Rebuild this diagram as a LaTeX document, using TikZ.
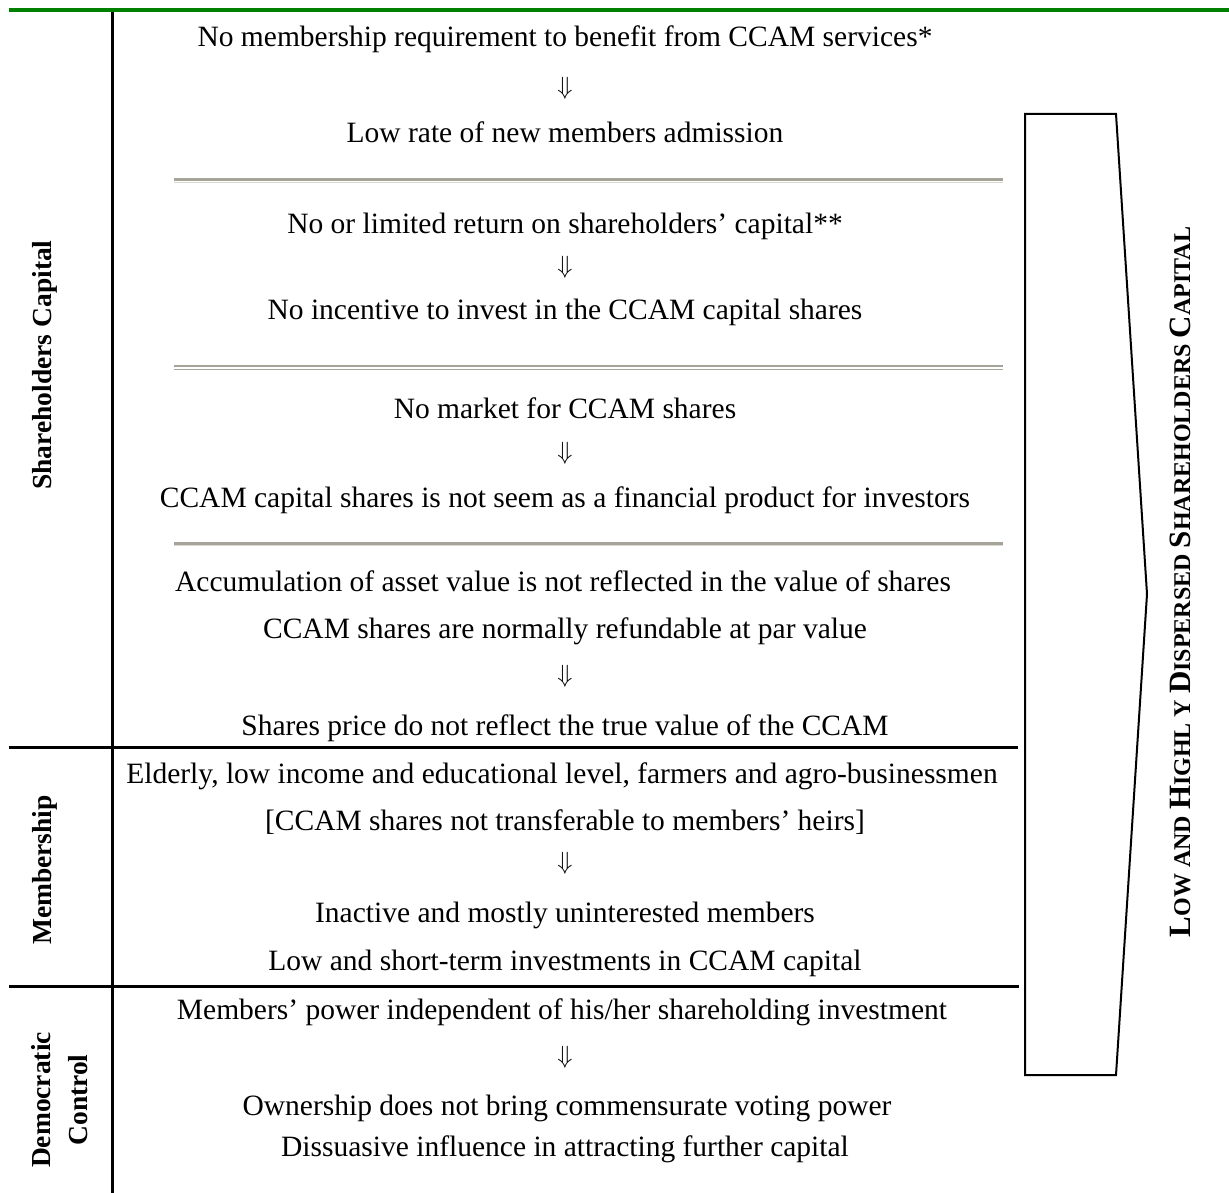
\documentclass[tikz,border=0pt]{standalone}
\usepackage{fontspec}
\setmainfont{Liberation Serif}
\usetikzlibrary{positioning}
\definecolor{custom-green}{RGB}{0, 128, 0}
\definecolor{custom-gray}{RGB}{166, 163, 152}
\definecolor{custom-light}{RGB}{218, 216, 208}
\newcommand{\capword}[2]{{\fontsize{31}{31}\selectfont #1}{\fontsize{24}{24}\selectfont #2}}

\begin{document}
\begin{tikzpicture}[x=1pt, y=-1pt,
    body/.style={font=\fontsize{29.5}{34}\selectfont, inner sep=0pt, anchor=base},
    down/.style={font=\fontsize{37}{40}\selectfont, inner sep=0pt},
    side/.style={font=\fontsize{27.5}{37}\selectfont\bfseries, rotate=90, align=center, inner sep=0pt},
    rule/.style={draw=black, line width=3pt},
    sep/.style={draw=custom-gray, line width=3pt},
    sep-light/.style={draw=custom-light, line width=1.2pt}]
\useasboundingbox (0,0) rectangle (1229,1193);
\draw[draw=custom-green, line width=4pt] (9,10.5) -- (1229,10.5);
\draw[rule] (112,12) -- (112,1193);
\draw[rule] (9,747) -- (1018,747);
\draw[rule] (9,986) -- (1019,986);
\draw[sep] (174,180) -- (1003,180);
\draw[sep-light] (174,182.3) -- (1003,182.3);
\draw[custom-gray, line width=1.3pt] (174,366) -- (1003,366);
\draw[custom-gray, line width=1.3pt] (174,369.5) -- (1003,369.5);
\draw[sep] (174,543) -- (1003,543);
\draw[sep-light] (174,545.3) -- (1003,545.3);
\draw[draw=black, line width=2pt, line join=miter] (1025,114) -- (1116,114) -- (1147,594) -- (1116,1075) -- (1025,1075) -- cycle;

\node[side, anchor=base] (capital) at (51,365) {Shareholders Capital};
\node[side, anchor=base] (members) at (51,870) {Membership};
\node[side] (control) at (60,1100) {Democratic\\Control};
\node[font=\fontsize{24}{24}\selectfont\bfseries, rotate=90, inner sep=0pt, anchor=base] (result) at (1190,582)
  {\capword{L}{OW AND} \capword{H}{IGHL Y} \capword{D}{ISPERSED} \capword{S}{HAREHOLDERS} \capword{C}{APITAL}};

\node[body] (s1) at (565,47) {No membership requirement to benefit from CCAM services*};
\node[down] (d1) at (565,88) {$\Downarrow$};
\node[body] (s2) at (565,143) {Low rate of new members admission};
\node[body] (s3) at (565,234) {No or limited return on shareholders’ capital**};
\node[down] (d2) at (565,267) {$\Downarrow$};
\node[body] (s4) at (565,319) {No incentive to invest in the CCAM capital shares};
\node[body] (s5) at (565,418) {No market for CCAM shares};
\node[down] (d3) at (565,453) {$\Downarrow$};
\node[body] (s6) at (565,507) {CCAM capital shares is not seem as a financial product for investors};
\node[body] (s7) at (563,591) {Accumulation of asset value is not reflected in the value of shares};
\node[body] (s8) at (565,638) {CCAM shares are normally refundable at par value};
\node[down] (d4) at (565,676) {$\Downarrow$};
\node[body] (s9) at (565,735) {Shares price do not reflect the true value of the CCAM};
\node[body] (m1) at (562,783) {Elderly, low income and educational level, farmers and agro-businessmen};
\node[body] (m2) at (565,830) {[CCAM shares not transferable to members’ heirs]};
\node[down] (d5) at (565,863) {$\Downarrow$};
\node[body] (m3) at (565,922) {Inactive and mostly uninterested members};
\node[body] (m4) at (565,970) {Low and short-term investments in CCAM capital};
\node[body] (c1) at (562,1019) {Members’ power independent of his/her shareholding investment};
\node[down] (d6) at (565,1057) {$\Downarrow$};
\node[body] (c2) at (567,1115) {Ownership does not bring commensurate voting power};
\node[body] (c3) at (565,1156) {Dissuasive influence in attracting further capital};
\end{tikzpicture}
\end{document}
